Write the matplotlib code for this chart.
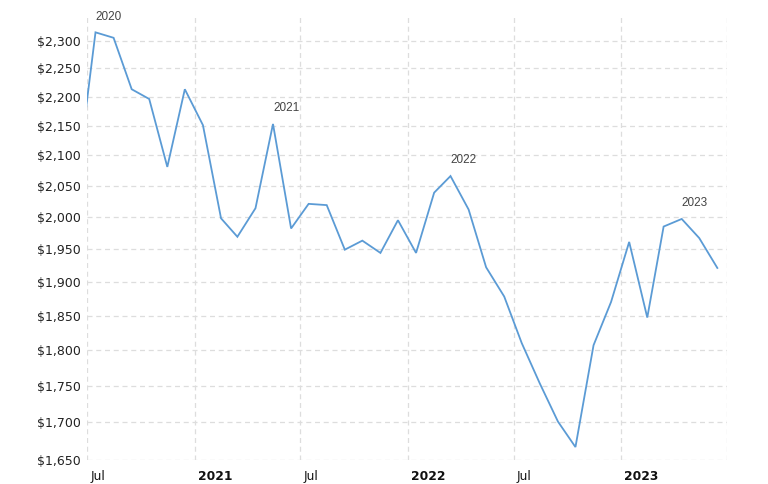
import datetime as dt
import matplotlib
matplotlib.use("Agg")
import matplotlib.pyplot as plt
import matplotlib.transforms as mtransforms
from matplotlib.ticker import FixedLocator, FixedFormatter, NullLocator

# monthly values (mid-month), inflation adjusted gold price, USD
months = ["2020-06", "2020-07", "2020-08", "2020-09", "2020-10", "2020-11", "2020-12",
          "2021-01", "2021-02", "2021-03", "2021-04", "2021-05", "2021-06",
          "2021-07", "2021-08", "2021-09", "2021-10", "2021-11", "2021-12",
          "2022-01", "2022-02", "2022-03", "2022-04", "2022-05", "2022-06",
          "2022-07", "2022-08", "2022-09", "2022-10", "2022-11", "2022-12",
          "2023-01", "2023-02", "2023-03", "2023-04", "2023-05", "2023-06"]
prices = [2071, 2315, 2305, 2213, 2196, 2081, 2213,
          2151, 1998, 1969, 2014, 2153, 1982,
          2021, 2019, 1949, 1963, 1944, 1995,
          1944, 2039, 2066, 2012, 1922, 1878,
          1810, 1753, 1701, 1667, 1807, 1870,
          1961, 1847, 1985, 1997, 1967, 1921]

y_ticks = [1650, 1700, 1750, 1800, 1850, 1900, 1950, 2000, 2050, 2100, 2150, 2200, 2250, 2300]
x_tick_dates = ["2020-07-01", "2021-01-01", "2021-07-01", "2022-01-01",
                "2022-07-01", "2023-01-01", "2023-07-01"]
x_tick_labels = ["Jul", "2021", "Jul", "2022", "Jul", "2023", ""]
year_labels = ["2020", "2021", "2022", "2023"]

dates = [dt.datetime.strptime(m + "-15", "%Y-%m-%d") for m in months]
tick_dates = [dt.datetime.strptime(d, "%Y-%m-%d") for d in x_tick_dates]

fig = plt.figure(figsize=(7.68, 4.84), dpi=100)
ax = fig.add_axes([0.1137, 0.0496, 0.9462 - 0.1137, 0.969 - 0.0496])

ax.plot(dates, prices, color="#5b9bd5", linewidth=1.3, solid_joinstyle="miter")

ax.set_yscale("log")
ax.set_ylim(1650, 2347)
ax.yaxis.set_major_locator(FixedLocator(y_ticks))
ax.yaxis.set_major_formatter(FixedFormatter([f"${v:,}" for v in y_ticks]))
ax.yaxis.set_minor_locator(NullLocator())

ax.set_xlim(tick_dates[0], tick_dates[-1])
ax.set_xticks(tick_dates)
ax.set_xticklabels(x_tick_labels)

ax.grid(True, color="#dddddd", linestyle=(0, (4, 3)), linewidth=0.9)
for s in ax.spines.values():
    s.set_visible(False)
ax.tick_params(axis="both", length=0)
ax.tick_params(axis="y", pad=5, labelsize=9, labelcolor="#222222")
ax.tick_params(axis="x", pad=7, labelsize=8.8, labelcolor="#111111")

offset = mtransforms.ScaledTranslation(3 / 100, 0, fig.dpi_scale_trans)
for lab in ax.get_xticklabels():
    lab.set_horizontalalignment("left")
    lab.set_transform(lab.get_transform() + offset)
    if lab.get_text().isdigit():
        lab.set_fontweight("bold")

# annotate each year's maximum
for yr in year_labels:
    idx = [i for i, m in enumerate(months) if m.startswith(yr) and dates[i] >= tick_dates[0]]
    best = max(idx, key=lambda i: prices[i])
    ax.annotate(yr, (dates[best], prices[best]), xytext=(0, 7), textcoords="offset points",
                ha="left", va="bottom", fontsize=8.5, color="#444444",
                family=["Liberation Sans", "DejaVu Sans"])

fig.savefig("out.png", dpi=100)
